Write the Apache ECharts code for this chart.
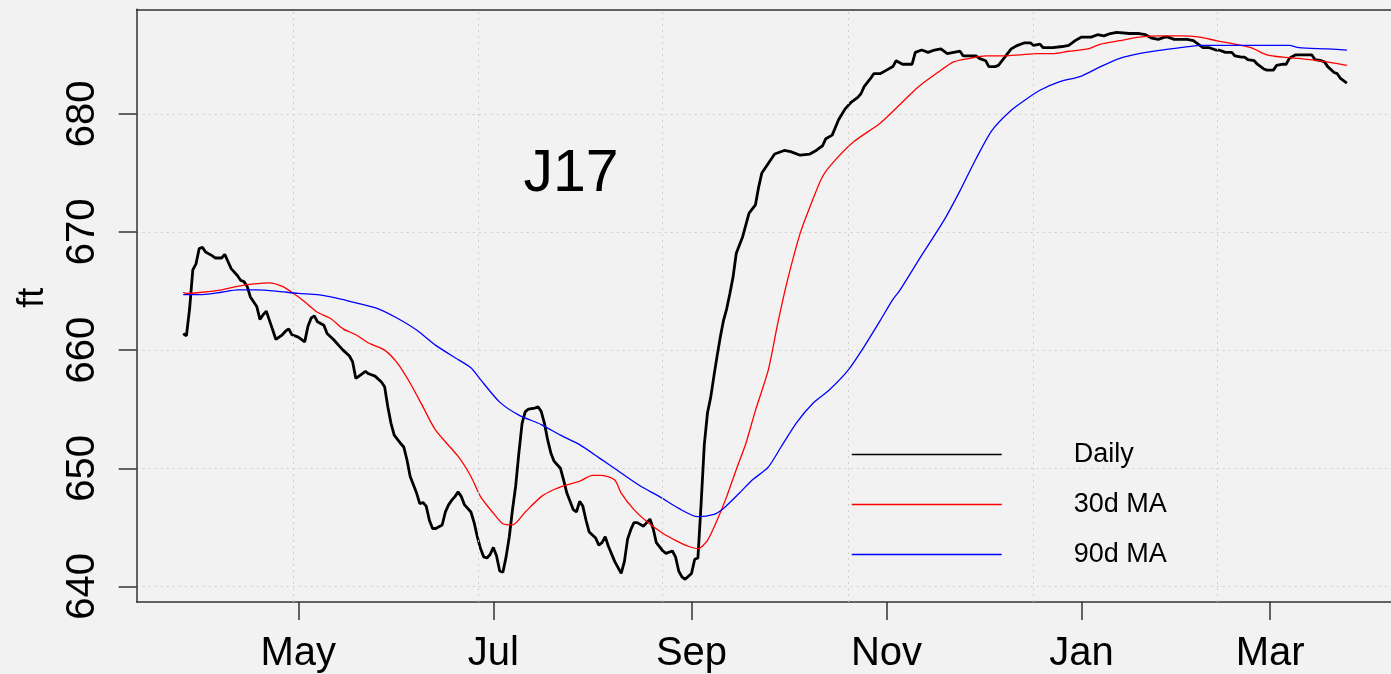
<!DOCTYPE html>
<html><head><meta charset="utf-8">
<script src="https://cdn.jsdelivr.net/npm/echarts@6/dist/echarts.min.js"></script>
<style>html,body{margin:0;padding:0;background:#f2f2f2;}#c{width:1391px;height:674px;}</style>
</head><body><div id="c"></div>
<script>
// ---- data (day offsets from 2017-03-26, level in ft) ----
const startDate = Date.UTC(2017, 2, 26);
const dailyPoints = [[0,661.4],[1,661.2],[2,663.5],[3,666.8],[4,667.3],[5,668.6],[6,668.7],[7,668.3],[9,668.0],[10,667.8],[12,667.8],[13,668.1],[14,667.5],[15,666.9],[17,666.3],[18,665.9],[19,665.8],[20,665.4],[21,664.5],[23,663.7],[24,662.6],[25,663.0],[26,663.3],[27,662.5],[28,661.7],[29,660.9],[31,661.3],[32,661.6],[33,661.8],[34,661.3],[36,661.1],[38,660.7],[39,662.0],[40,662.7],[41,662.9],[42,662.4],[44,662.1],[45,661.4],[47,660.9],[49,660.3],[50,660.0],[52,659.5],[53,659.0],[54,657.6],[55,657.8],[57,658.2],[58,658.0],[60,657.8],[62,657.3],[63,656.9],[64,655.2],[65,653.8],[66,652.8],[68,652.1],[69,651.8],[70,650.7],[71,649.3],[73,647.9],[74,647.0],[75,647.1],[76,646.8],[77,645.6],[78,644.9],[79,644.9],[81,645.2],[82,646.3],[83,646.9],[84,647.3],[85,647.6],[86,648.0],[87,647.6],[88,646.9],[90,646.3],[91,645.4],[92,644.2],[93,643.2],[94,642.5],[95,642.4],[96,642.7],[97,643.3],[98,642.6],[99,641.3],[100,641.2],[101,642.5],[102,644.2],[103,646.5],[104,648.5],[105,651.3],[106,653.8],[107,654.8],[108,655.0],[110,655.1],[111,655.2],[112,654.8],[113,653.8],[114,652.4],[115,651.3],[116,650.6],[117,650.3],[118,650.0],[119,649.0],[120,647.9],[122,646.5],[123,646.3],[124,647.2],[125,646.8],[126,645.6],[127,644.6],[129,644.1],[130,643.5],[131,643.7],[132,644.2],[133,643.4],[135,642.1],[137,641.1],[138,642.1],[139,644.0],[140,644.8],[141,645.4],[142,645.4],[144,645.1],[145,645.4],[146,645.7],[147,644.9],[148,643.7],[150,643.0],[151,642.8],[153,643.0],[154,642.5],[155,641.3],[156,640.8],[157,640.6],[159,641.1],[160,642.3],[161,642.4],[162,647.0],[163,652.0],[164,654.7],[165,656.0],[166,657.8],[167,659.5],[168,661.1],[169,662.5],[170,663.5],[171,664.8],[172,666.2],[173,668.2],[175,669.6],[176,670.6],[177,671.6],[179,672.3],[180,673.8],[181,675.0],[182,675.4],[183,675.8],[185,676.6],[188,676.9],[190,676.8],[193,676.5],[196,676.6],[198,676.9],[200,677.3],[201,677.9],[203,678.2],[205,679.5],[207,680.4],[209,681.0],[211,681.4],[212,681.7],[213,682.3],[215,683.0],[216,683.4],[218,683.4],[220,683.7],[222,684.0],[223,684.5],[225,684.2],[226,684.2],[228,684.2],[229,685.2],[231,685.4],[233,685.2],[235,685.4],[237,685.5],[239,685.1],[241,685.2],[243,685.3],[244,684.9],[246,684.9],[248,684.9],[249,684.7],[251,684.5],[252,684.0],[254,684.0],[255,684.1],[257,684.8],[259,685.5],[261,685.8],[263,686.0],[265,686.0],[266,685.8],[268,685.9],[269,685.6],[272,685.6],[275,685.7],[277,685.8],[279,686.2],[281,686.5],[284,686.5],[286,686.7],[288,686.6],[290,686.8],[292,686.9],[296,686.8],[299,686.8],[301,686.7],[303,686.4],[305,686.3],[307,686.5],[308,686.5],[310,686.3],[312,686.3],[314,686.3],[316,686.2],[318,685.8],[319,685.6],[321,685.6],[323,685.4],[324,685.4],[326,685.2],[328,685.2],[329,684.9],[331,684.8],[332,684.8],[333,684.6],[335,684.5],[336,684.2],[338,683.8],[339,683.7],[341,683.7],[342,684.1],[344,684.2],[345,684.2],[346,684.7],[348,685.0],[349,685.0],[351,685.0],[353,685.0],[354,684.6],[356,684.5],[357,684.4],[358,684.0],[360,683.5],[361,683.4],[362,683.0],[364,682.6]];
const ma30Points = [[0,664.9],[1,664.8],[6,664.9],[12,665.1],[17,665.4],[22,665.6],[27,665.7],[31,665.4],[34,664.9],[38,664.1],[42,663.2],[46,662.7],[50,661.8],[54,661.3],[58,660.6],[63,660.0],[67,658.9],[71,657.2],[75,655.2],[79,653.2],[86,651.0],[90,649.3],[93,647.6],[97,646.2],[100,645.3],[103,645.2],[107,646.3],[112,647.6],[116,648.2],[120,648.6],[124,648.9],[128,649.4],[131,649.4],[135,649.0],[137,647.9],[141,646.5],[145,645.5],[150,644.5],[154,643.9],[158,643.4],[161,643.2],[164,643.9],[167,645.6],[170,647.6],[173,649.9],[176,652.1],[179,654.9],[183,658.3],[186,662.3],[189,665.9],[193,669.9],[196,672.1],[200,674.7],[204,676.1],[210,677.7],[218,679.2],[225,681.0],[230,682.3],[236,683.5],[241,684.4],[246,684.7],[251,684.9],[256,684.9],[262,685.0],[267,685.1],[272,685.1],[277,685.3],[283,685.5],[287,685.9],[293,686.2],[299,686.5],[306,686.6],[312,686.6],[318,686.5],[323,686.2],[329,685.9],[334,685.6],[339,685.0],[344,684.8],[349,684.7],[355,684.5],[360,684.3],[364,684.1]];
const ma90Points = [[0,664.7],[6,664.7],[12,664.9],[17,665.1],[23,665.1],[29,665.0],[36,664.8],[42,664.7],[48,664.4],[54,664.0],[61,663.5],[67,662.7],[73,661.7],[79,660.4],[86,659.2],[90,658.5],[93,657.5],[99,655.6],[105,654.5],[112,653.7],[118,652.8],[124,652.0],[130,650.9],[137,649.6],[143,648.5],[149,647.6],[155,646.6],[161,645.9],[166,646.1],[169,646.6],[174,647.9],[178,649.0],[183,650.1],[187,651.8],[192,653.9],[197,655.5],[202,656.6],[208,658.3],[213,660.3],[218,662.5],[222,664.3],[224,665.0],[230,667.6],[238,671.0],[243,673.5],[248,676.2],[253,678.6],[259,680.3],[264,681.3],[268,682.0],[274,682.7],[281,683.2],[287,684.0],[293,684.7],[299,685.1],[306,685.4],[312,685.6],[318,685.8],[329,685.8],[339,685.8],[346,685.8],[349,685.6],[358,685.5],[364,685.4]];
const tickDates = ['2017-05-01','2017-07-01','2017-09-01','2017-11-01','2018-01-01','2018-03-01'];
const tickLabels = ['May','Jul','Sep','Nov','Jan','Mar'];
const yTicks = [640, 650, 660, 670, 680];
const gridDays = [34.3, 92.2, 150.0, 207.9, 265.8, 323.6];
const seriesNames = ['Daily', '30d MA', '90d MA'];
const panelLabel = 'J17';
const yName = 'ft';

// ---- build ----
const DAY = 86400000;
const toTs = d => startDate + d * DAY;
const tickTs = tickDates.map(s => Date.parse(s + 'T00:00:00Z'));
const FONT = '"Liberation Sans", Arial, sans-serif';
const toSeries = pts => pts.map(([d, v]) => [toTs(d), v]);
const gridStyle = {type: [2, 4], color: '#cfcfcf', width: 1};
const boxStyle = {color: '#333', width: 1.5};
const xMin = toTs(-14.55), xMax = toTs(377.8);

const chart = echarts.init(document.getElementById('c'), null, {renderer: 'canvas'});
chart.setOption({
  animation: false,
  backgroundColor: '#f2f2f2',
  textStyle: {fontFamily: FONT},
  grid: {left: 136.7, right: 0, top: 9.3, bottom: 71.7, show: false},
  graphic: [{type: 'text', x: 571, y: 175, z: 10,
    style: {text: panelLabel, font: '59px ' + FONT, fill: '#000', align: 'center', verticalAlign: 'middle'}}],
  legend: {orient: 'vertical', left: 846, top: 436, itemWidth: 150, itemHeight: 14, itemGap: 23,
    selectedMode: false, data: seriesNames,
    lineStyle: {width: 1.5},
    itemStyle: {opacity: 0},
    textStyle: {fontSize: 27, color: '#000', fontFamily: FONT, padding: [0, 0, 0, 67]}},
  xAxis: [{type: 'value', min: xMin, max: xMax,
    axisLine: {show: true, lineStyle: boxStyle},
    axisTick: {show: true, customValues: tickTs, length: 18, lineStyle: boxStyle},
    axisLabel: {customValues: tickTs, margin: 32, fontSize: 40, color: '#000', fontFamily: FONT,
      formatter: v => {
        let best = 0, bd = Infinity;
        tickTs.forEach((t, i) => { const dd = Math.abs(t - v); if (dd < bd) { bd = dd; best = i; } });
        return tickLabels[best];
      }},
    splitLine: {show: false}},
    {type: 'value', position: 'top', min: xMin, max: xMax,
     axisLine: {show: true, lineStyle: boxStyle}, axisTick: {show: false},
     axisLabel: {show: false}, splitLine: {show: false}}],
  yAxis: {type: 'value', min: 638.68, max: 688.85,
    name: yName, nameLocation: 'middle', nameRotate: 90, nameGap: 86,
    nameTextStyle: {fontSize: 36, color: '#000', fontFamily: FONT, padding: [0, 0, 0, 16]},
    axisLine: {show: true, lineStyle: boxStyle},
    axisTick: {show: true, customValues: yTicks, length: 18, lineStyle: boxStyle},
    axisLabel: {customValues: yTicks, rotate: 90, margin: 34, fontSize: 40, color: '#000', fontFamily: FONT},
    splitLine: {show: true, lineStyle: gridStyle}},
  series: [
    {type: 'line', data: [], silent: true, z: 1,
     markLine: {silent: true, symbol: ['none', 'none'], label: {show: false}, animation: false,
       lineStyle: gridStyle, emphasis: {disabled: true},
       data: gridDays.map(d => ({xAxis: toTs(d)}))}},
    {name: seriesNames[0], type: 'line', data: toSeries(dailyPoints), symbol: 'none', z: 3,
     lineStyle: {color: '#000', width: 2.8}, itemStyle: {color: '#000'}},
    {name: seriesNames[1], type: 'line', data: toSeries(ma30Points), symbol: 'none', z: 4,
     smooth: 0.25,
     lineStyle: {color: '#ff0000', width: 1.3}, itemStyle: {color: '#ff0000'}},
    {name: seriesNames[2], type: 'line', data: toSeries(ma90Points), symbol: 'none', z: 4,
     smooth: 0.25,
     lineStyle: {color: '#0000ff', width: 1.3}, itemStyle: {color: '#0000ff'}}
  ]
});
</script></body></html>
